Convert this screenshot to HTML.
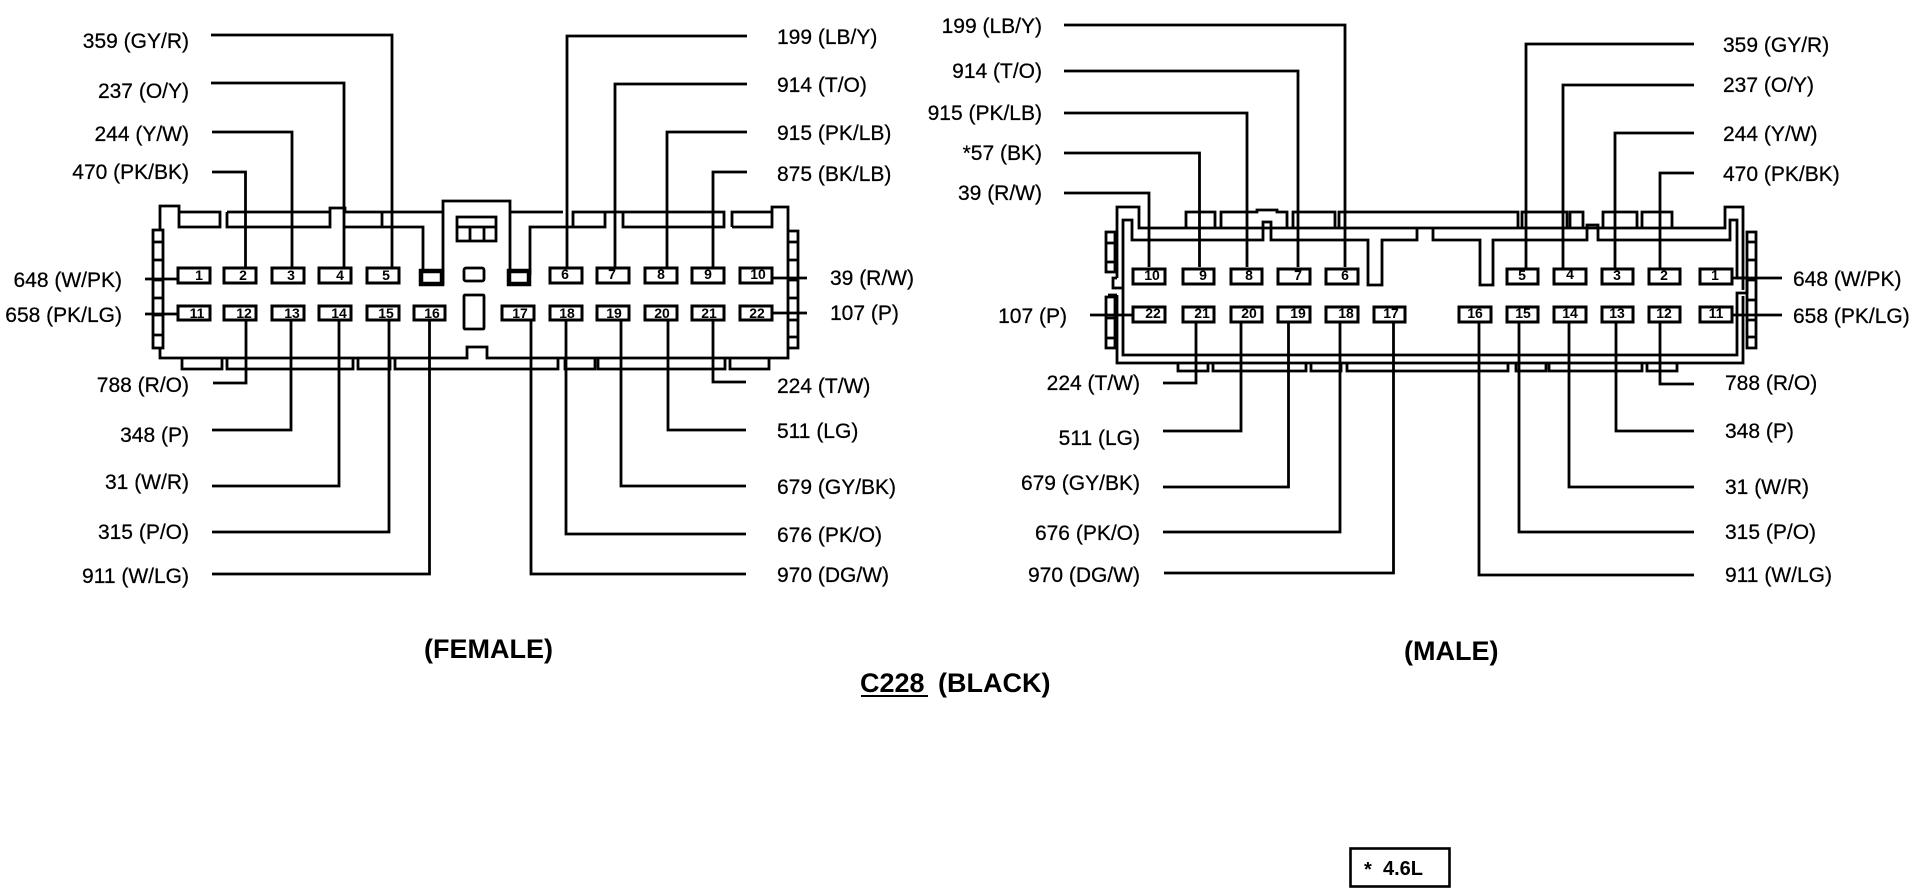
<!DOCTYPE html>
<html><head><meta charset="utf-8"><title>C228 (BLACK)</title>
<style>
html,body{margin:0;padding:0;background:#fff}
svg{display:block}
text{font-family:"Liberation Sans",Arial,sans-serif;fill:#000}
.l{font-size:21px;stroke:#000;stroke-width:.25}
.e{text-anchor:end}
.n{font-size:14px;font-weight:bold;text-anchor:middle}
.t{font-size:27px;font-weight:bold}
.o{fill:none;stroke:#000;stroke-width:2.8}
.w{fill:none;stroke:#000;stroke-width:2.8}
.p rect{fill:#fff;stroke:#000;stroke-width:3}
.b rect{fill:#fff;stroke:#000;stroke-width:4.5}
</style></head><body>
<svg xmlns="http://www.w3.org/2000/svg" width="1916" height="896" viewBox="0 0 1916 896">
<rect width="1916" height="896" fill="#fff"/>

<!-- FEMALE outline -->
<path class="o" d="M160 230V206H179V227H220V212H179M227 212H330V208H345V212H382V227H345M227 212V227H330V212M345 227H423V274M382 212H443V201H510V212H563M443 201V285M510 201V285M530 275V227H605V212H573V227M605 212H724V227H623V212M732 227V212H772V227H732M772 212V207H788V358H487V347H467V358H160V348"/>
<path class="o" d="M153 230H163V348H153ZM153 242H163M153 260H163M153 280H163M153 298H163M153 315H163M153 335H163"/>
<path class="o" d="M788 231H798V348H788M788 242H798M788 260H798M788 280H798M788 298H798M788 320H798M788 337H798"/>
<path class="o" d="M182 358V369H222V358M227 358V369H353V358M358 358V369H390V358M395 358V369H558V358M565 358V369H595V358M598 358V369H725V358M730 358V369H769V358"/>
<path class="o" d="M457 217H496V241H457ZM457 227H496M470 227V241M484 227V241"/>
<rect class="o" x="464" y="268" width="20" height="13" rx="2"/>
<rect class="o" x="464" y="295" width="20" height="34" rx="1"/>

<!-- FEMALE leaders -->
<g class="w">
<path d="M211 35H392V267M211 83H344V267M212 132H292V267M212 172H245.500V267"/>
<path d="M747 36H567V267M747 84H615V267M747 132H667V267M747 172H713V267"/>
<path d="M145 279H177M145 314H177M772 278H807M772 313H807"/>
<path d="M213 383H246V321M212 430H291V321M212 486H339V321M212 532H389V321M212 574H429.500V321"/>
<path d="M746 382H713V321M746 430H668V321M746 486H621V321M746 534H566V321M746 574H531V321"/>
</g>

<!-- FEMALE pins -->
<g class="b"><rect x="421" y="271" width="21" height="13"/><rect x="509" y="271" width="20" height="13"/></g>
<g class="p">
<rect x="178" y="268" width="32" height="15"/><rect x="224" y="268" width="32" height="15"/><rect x="272" y="268" width="32" height="15"/><rect x="319" y="268" width="32" height="15"/><rect x="367" y="268" width="32" height="15"/>
<rect x="550" y="268" width="32" height="15"/><rect x="597" y="268" width="32" height="15"/><rect x="645" y="268" width="32" height="15"/><rect x="692" y="268" width="32" height="15"/><rect x="740" y="268" width="32" height="15"/>
<rect x="178" y="306" width="32" height="14"/><rect x="224" y="306" width="32" height="14"/><rect x="272" y="306" width="32" height="14"/><rect x="319" y="306" width="32" height="14"/><rect x="367" y="306" width="32" height="14"/><rect x="414" y="306" width="31" height="14"/>
<rect x="502" y="306" width="32" height="14"/><rect x="550" y="306" width="32" height="14"/><rect x="597" y="306" width="32" height="14"/><rect x="645" y="306" width="32" height="14"/><rect x="692" y="306" width="32" height="14"/><rect x="740" y="306" width="32" height="14"/>
</g>
<g>
<text class="n" x="199" y="280">1</text><text class="n" x="243" y="280">2</text><text class="n" x="291" y="280">3</text><text class="n" x="340" y="280">4</text><text class="n" x="386" y="280">5</text>
<text class="n" x="565" y="279">6</text><text class="n" x="612" y="279">7</text><text class="n" x="661" y="279">8</text><text class="n" x="708" y="279">9</text><text class="n" x="758" y="279">10</text>
<text class="n" x="197" y="318">11</text><text class="n" x="244" y="318">12</text><text class="n" x="292" y="318">13</text><text class="n" x="339" y="318">14</text><text class="n" x="386" y="318">15</text><text class="n" x="432" y="318">16</text>
<text class="n" x="520" y="318">17</text><text class="n" x="567" y="318">18</text><text class="n" x="614" y="318">19</text><text class="n" x="662" y="318">20</text><text class="n" x="709" y="318">21</text><text class="n" x="757" y="318">22</text>
</g>

<!-- FEMALE labels -->
<text class="l e" x="189" y="48">359 (GY/R)</text>
<text class="l e" x="189" y="98">237 (O/Y)</text>
<text class="l e" x="189" y="141">244 (Y/W)</text>
<text class="l e" x="189" y="179">470 (PK/BK)</text>
<text class="l e" x="122" y="287">648 (W/PK)</text>
<text class="l e" x="122" y="322">658 (PK/LG)</text>
<text class="l e" x="189" y="392">788 (R/O)</text>
<text class="l e" x="189" y="442">348 (P)</text>
<text class="l e" x="189" y="489">31 (W/R)</text>
<text class="l e" x="189" y="539">315 (P/O)</text>
<text class="l e" x="189" y="583">911 (W/LG)</text>
<text class="l" x="777" y="44">199 (LB/Y)</text>
<text class="l" x="777" y="92">914 (T/O)</text>
<text class="l" x="777" y="140">915 (PK/LB)</text>
<text class="l" x="777" y="181">875 (BK/LB)</text>
<text class="l" x="830" y="285">39 (R/W)</text>
<text class="l" x="830" y="320">107 (P)</text>
<text class="l" x="777" y="393">224 (T/W)</text>
<text class="l" x="777" y="438">511 (LG)</text>
<text class="l" x="777" y="494">679 (GY/BK)</text>
<text class="l" x="777" y="542">676 (PK/O)</text>
<text class="l" x="777" y="582">970 (DG/W)</text>

<!-- MALE outline -->
<path class="o" d="M1117 278V207H1139V228H1725V207H1743V290M1743 296V363H1117V295"/>
<path class="o" d="M1117 278H1113V288H1123M1108 295H1117"/>
<path class="o" d="M1123 288V220H1132V240H1263V222H1271V240H1368V285H1382V240H1417V228M1433 228V240H1480V285H1493V240H1587V225H1598V240H1730V220H1737V278H1747V293H1737V355H1123V288"/>
<path class="o" d="M1186 228V212H1215V228M1221 228V212H1257V210H1277V212H1287V228M1293 228V212H1335V228M1339 228V212H1518V228M1522 228V212H1567V228M1570 228V212H1583V228M1603 228V212H1637V228M1642 228V212H1672V228"/>
<path class="o" d="M1106 232H1115V272H1106ZM1106 243H1115M1106 262H1115M1106 297H1115V348H1106ZM1106 318H1115M1106 338H1115"/>
<path class="o" d="M1747 232H1756V348H1747ZM1747 242H1756M1747 260H1756M1747 280H1756M1747 300H1756M1747 320H1756M1747 337H1756"/>
<path class="o" d="M1178 363V371H1208V363M1213 363V371H1306V363M1311 363V371H1341V363M1347 363V371H1508V363M1516 363V371H1546V363M1549 363V371H1642V363M1647 363V371H1677V363"/>

<!-- MALE leaders -->
<g class="w">
<path d="M1064 25H1345V267M1064 71H1298V267M1064 113H1247V267M1064 153H1199.500V267M1064 193H1149V267"/>
<path d="M1694 44H1526V268M1694 85H1563V268M1694 133H1615V268M1694 173H1660V268"/>
<path d="M1733 278H1782M1733 315H1782M1090 315H1132"/>
<path d="M1163 383H1196V323M1163 431H1241V323M1163 487H1288.500V323M1163 532H1340V323M1164 573H1393.500V323"/>
<path d="M1694 384H1660V323M1694 431H1616V323M1694 487H1569V323M1694 532H1519V323M1694 575H1479V323"/>
</g>

<!-- MALE pins -->
<g class="p">
<rect x="1133" y="269" width="32" height="15"/><rect x="1183" y="269" width="31" height="15"/><rect x="1231" y="269" width="31" height="15"/><rect x="1278" y="269" width="32" height="15"/><rect x="1326" y="269" width="32" height="15"/>
<rect x="1507" y="269" width="31" height="15"/><rect x="1554" y="269" width="32" height="15"/><rect x="1602" y="269" width="31" height="15"/><rect x="1649" y="269" width="31" height="15"/><rect x="1700" y="269" width="32" height="15"/>
<rect x="1133" y="307" width="32" height="15"/><rect x="1183" y="307" width="31" height="15"/><rect x="1231" y="307" width="31" height="15"/><rect x="1278" y="307" width="32" height="15"/><rect x="1326" y="307" width="32" height="15"/><rect x="1374" y="307" width="31" height="15"/>
<rect x="1459" y="307" width="32" height="15"/><rect x="1507" y="307" width="31" height="15"/><rect x="1554" y="307" width="32" height="15"/><rect x="1602" y="307" width="31" height="15"/><rect x="1649" y="307" width="31" height="15"/><rect x="1700" y="307" width="32" height="15"/>
</g>
<g>
<text class="n" x="1152" y="280">10</text><text class="n" x="1203" y="280">9</text><text class="n" x="1249" y="280">8</text><text class="n" x="1298" y="280">7</text><text class="n" x="1345" y="280">6</text>
<text class="n" x="1522" y="280">5</text><text class="n" x="1570" y="279">4</text><text class="n" x="1617" y="280">3</text><text class="n" x="1664" y="280">2</text><text class="n" x="1715" y="280">1</text>
<text class="n" x="1153" y="318">22</text><text class="n" x="1202" y="318">21</text><text class="n" x="1249" y="318">20</text><text class="n" x="1298" y="318">19</text><text class="n" x="1346" y="318">18</text><text class="n" x="1391" y="318">17</text>
<text class="n" x="1475" y="318">16</text><text class="n" x="1523" y="318">15</text><text class="n" x="1570" y="318">14</text><text class="n" x="1617" y="318">13</text><text class="n" x="1664" y="318">12</text><text class="n" x="1716" y="318">11</text>
</g>

<!-- MALE labels -->
<text class="l e" x="1042" y="33">199 (LB/Y)</text>
<text class="l e" x="1042" y="78">914 (T/O)</text>
<text class="l e" x="1042" y="120">915 (PK/LB)</text>
<text class="l e" x="1042" y="160">*57 (BK)</text>
<text class="l e" x="1042" y="200">39 (R/W)</text>
<text class="l e" x="1067" y="323">107 (P)</text>
<text class="l e" x="1140" y="390">224 (T/W)</text>
<text class="l e" x="1140" y="445">511 (LG)</text>
<text class="l e" x="1140" y="490">679 (GY/BK)</text>
<text class="l e" x="1140" y="540">676 (PK/O)</text>
<text class="l e" x="1140" y="582">970 (DG/W)</text>
<text class="l" x="1723" y="52">359 (GY/R)</text>
<text class="l" x="1723" y="92">237 (O/Y)</text>
<text class="l" x="1723" y="141">244 (Y/W)</text>
<text class="l" x="1723" y="181">470 (PK/BK)</text>
<text class="l" x="1793" y="286">648 (W/PK)</text>
<text class="l" x="1793" y="323">658 (PK/LG)</text>
<text class="l" x="1725" y="390">788 (R/O)</text>
<text class="l" x="1725" y="438">348 (P)</text>
<text class="l" x="1725" y="494">31 (W/R)</text>
<text class="l" x="1725" y="539">315 (P/O)</text>
<text class="l" x="1725" y="582">911 (W/LG)</text>

<!-- Captions -->
<text class="t" x="424" y="658">(FEMALE)</text>
<text class="t" x="1404" y="660">(MALE)</text>
<text class="t" x="860" y="692">C228</text>
<text class="t" x="938" y="692">(BLACK)</text>
<rect x="861" y="695" width="67" height="2" fill="#000"/>
<rect x="1350.500" y="848.500" width="99" height="38" fill="none" stroke="#000" stroke-width="2.600"/>
<text x="1364" y="876" font-size="20" font-weight="bold">*</text>
<text x="1383" y="875" font-size="20" font-weight="bold">4.6L</text>
</svg>
</body></html>
